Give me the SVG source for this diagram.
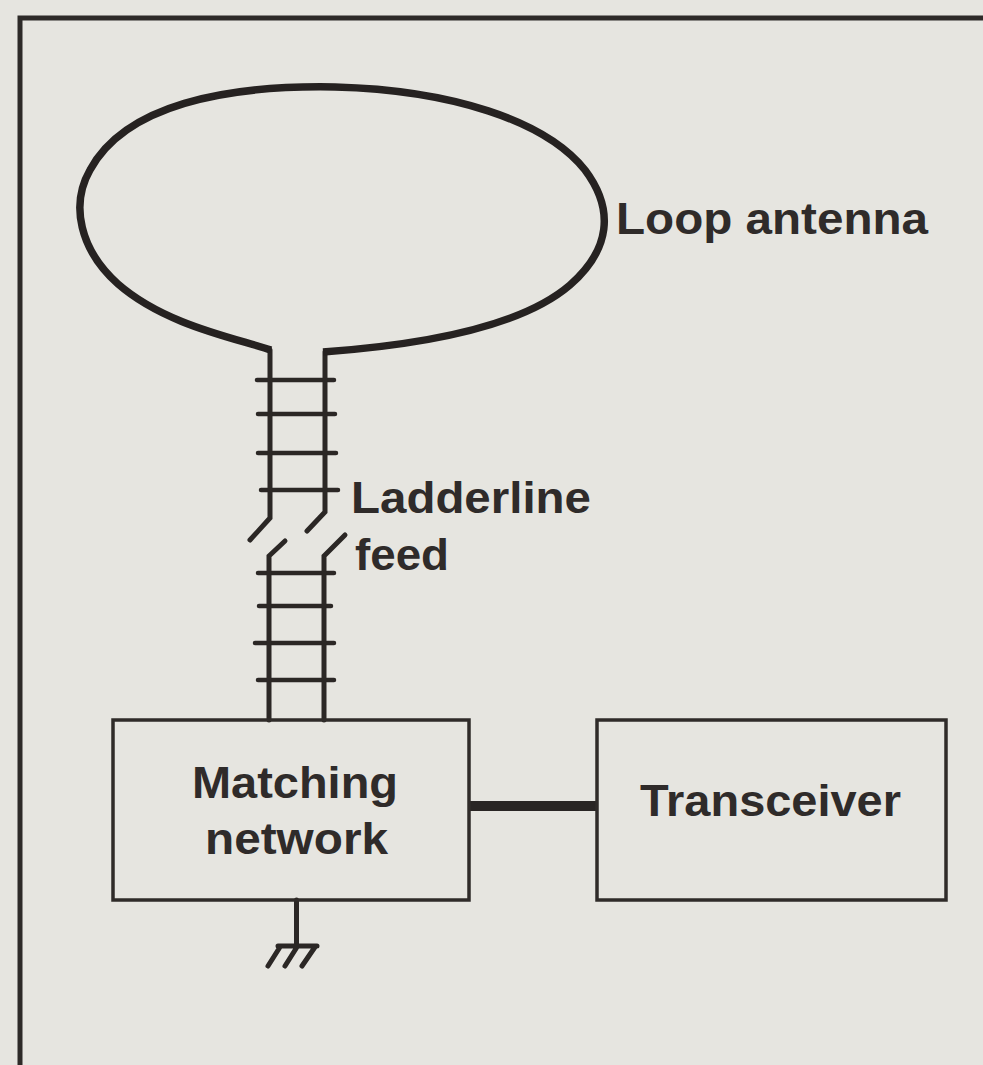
<svg xmlns="http://www.w3.org/2000/svg" width="983" height="1065" viewBox="0 0 983 1065">
<style>
.w{fill:none;stroke:#2b2725;stroke-linecap:round;stroke-linejoin:miter}
.b{fill:none;stroke:#2f2b29;stroke-width:3.5}
.t{font-family:"Liberation Sans",Arial,sans-serif;font-weight:700;font-size:45px;fill:#2f2b2a}
.r{stroke-width:4.5}
.f{stroke-width:5}
</style>
<rect width="983" height="1065" fill="#e6e5e0"/>
<path d="M20 1065V18H983" fill="none" stroke="#2d2a28" stroke-width="5"/>
<g id="connectors">
<g class="w r">
<path d="M257 380H334M258 414H335M258 453H336M261 490H338"/>
<path d="M258 573H334M259 606H331M255 643H334M258 680H334"/>
</g>
<path class="w f" d="M270 350V518L250 540M325 352V512L307 531"/>
<path class="w f" d="M269 720V556L285 541M324 720V556L345 535"/>
<path d="M470 806H597" fill="none" stroke="#292524" stroke-width="10"/>
<path class="w f" d="M296.500 900V946"/>
<path class="w f" d="M278 946H317M280 947L268 966M297 947L285 966M315 947L302 966"/>
</g>
<g id="loop-antenna">
<path d="M271 350C235 338 165 325 118 284C80 250 70 205 90 170C125 105 225 85 335 87C450 90 545 120 585 170C615 210 610 250 570 285C520 328 420 345 323 352" fill="none" stroke="#262221" stroke-width="7.500" stroke-linecap="butt"/>
<text class="t" x="616" y="234" textLength="312" lengthAdjust="spacingAndGlyphs">Loop antenna</text>
</g>
<g id="ladderline-label">
<text class="t" x="351" y="513" textLength="240" lengthAdjust="spacingAndGlyphs">Ladderline</text>
<text class="t" x="355" y="570" textLength="94" lengthAdjust="spacingAndGlyphs">feed</text>
</g>
<g id="matching-network">
<rect class="b" x="113" y="720" width="356" height="180"/>
<text class="t" x="192" y="798" textLength="206" lengthAdjust="spacingAndGlyphs">Matching</text>
<text class="t" x="205" y="854" textLength="183" lengthAdjust="spacingAndGlyphs">network</text>
</g>
<g id="transceiver">
<rect class="b" x="597" y="720" width="349" height="180"/>
<text class="t" x="640" y="816" textLength="261" lengthAdjust="spacingAndGlyphs">Transceiver</text>
</g>
</svg>
